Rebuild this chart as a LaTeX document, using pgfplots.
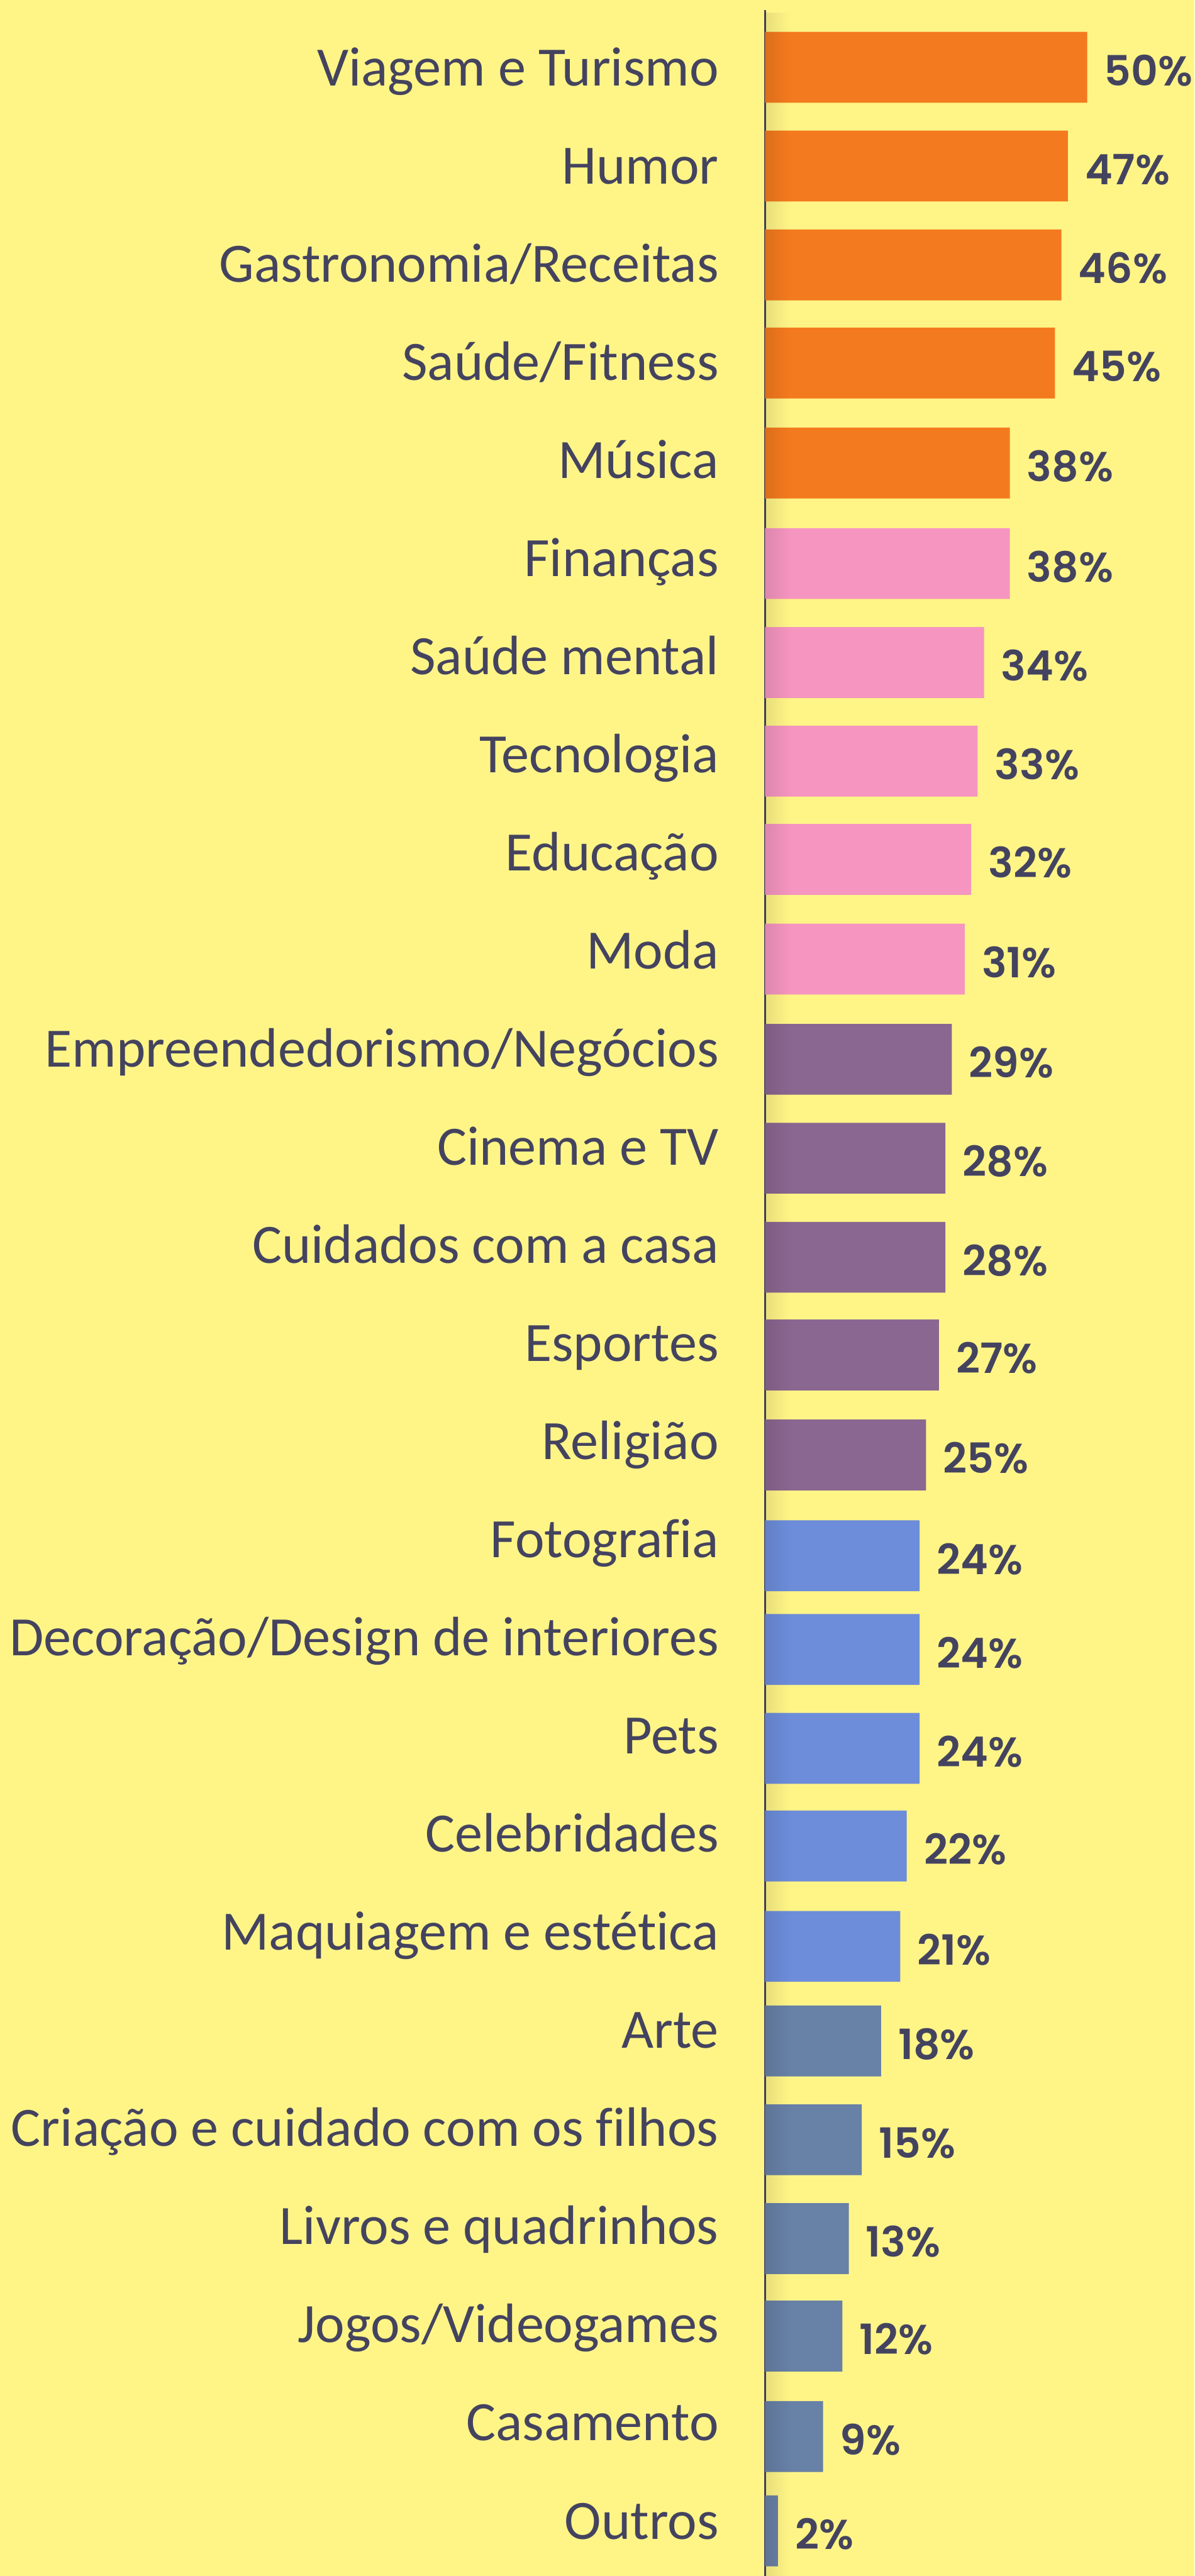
\documentclass[border=0pt]{standalone}
\usepackage{pgfplots}
\pgfplotsset{compat=1.18}
\usepackage{fontspec}
\setmainfont{Carlito}[Ligatures={NoCommon}]
\newfontfamily\valfont{Poppins SemiBold}
\usetikzlibrary{fadings}
\definecolor{bg}{HTML}{FFF587}
\definecolor{ink}{HTML}{44435F}
\definecolor{c1}{HTML}{F47A1F}
\definecolor{c2}{HTML}{F595C0}
\definecolor{c3}{HTML}{8A6790}
\definecolor{c4}{HTML}{6D8DDA}
\definecolor{c5}{HTML}{6881A6}
\tikzfading[name=fadeR, left color=transparent!0, right color=transparent!100]
\begin{document}
\begin{tikzpicture}
\fill[bg] (-249.4pt,0) rectangle (140pt,839.8pt);
\useasboundingbox (-249.4pt,0) rectangle (140pt,839.8pt);
\begin{axis}[
 at={(0,0)}, anchor=south west,
 scale only axis, width=140pt, height=836.6pt,
 xmin=0, xmax=66.667,
 ymin=16, ymax=4199, y dir=reverse,
 xbar, bar width=23.1pt, bar shift=0pt,
 hide x axis, axis y line*=left,
 y axis line style={draw=ink, line width=0.6pt},
 ytick={110.5,270.5,430.4,590.4,750.3,910.3,1070.3,1230.2,1390.2,1550.1,1710.1,1870.1,2030.0,2190.0,2349.9,2509.9,2669.9,2829.8,2989.8,3149.7,3309.7,3469.7,3629.6,3789.6,3949.5,4109.5},
 yticklabels={Viagem e Turismo,Humor,Gastronomia/Receitas,Saúde/Fitness,Música,Finanças,Saúde mental,Tecnologia,Educação,Moda,Empreendedorismo/Negócios,Cinema e TV,Cuidados com a casa,Esportes,Religião,Fotografia,Decoração/Design de interiores,Pets,Celebridades,Maquiagem e estética,Arte,Criação e cuidado com os filhos,Livros e quadrinhos,Jogos/Videogames,Casamento,Outros},
 ytick style={draw=none},
 major tick length=0pt,
 yticklabel style={font=\fontsize{18.1}{20}\selectfont, text=ink, anchor=base east, inner sep=0pt, xshift=-14.9pt, yshift=-5.8pt},
 point meta=x,
 nodes near coords={\pgfmathprintnumber[assume math mode=true]{\pgfplotspointmeta}\%},
 every node near coord/.append style={font=\valfont\fontsize{13.6}{16}\selectfont, text=ink, anchor=base west, inner sep=0pt, xshift=5.4pt, yshift=-6pt},
 clip=false,
]
\addplot[xbar, bar shift=0pt, fill=c1, draw=none] coordinates {(50,109.7) (47,270.7) (46,431.9) (45,591.8) (38,754.7)};
\addplot[xbar, bar shift=0pt, fill=c2, draw=none] coordinates {(38,918.7) (34,1080.0) (33,1240.7) (32,1400.8) (31,1563.4)};
\addplot[xbar, bar shift=0pt, fill=c3, draw=none] coordinates {(29,1726.7) (28,1887.9) (28,2049.4) (27,2208.7) (25,2371.6)};
\addplot[xbar, bar shift=0pt, fill=c4, draw=none] coordinates {(24,2536.0) (24,2688.7) (24,2849.9) (22,3009.0) (21,3172.7)};
\addplot[xbar, bar shift=0pt, fill=c5, draw=none] coordinates {(18,3326.9) (15,3487.9) (13,3648.9) (12,3807.8) (9,3971.6) (2,4125.4)};
\fill[black, opacity=0.09, path fading=fadeR] (rel axis cs:0,0) rectangle (rel axis cs:0.06,1);
\end{axis}
\end{tikzpicture}
\end{document}
